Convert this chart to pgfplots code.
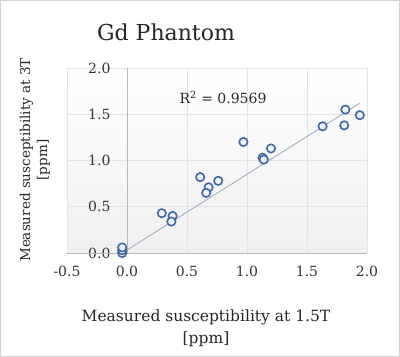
\documentclass[border=0pt]{standalone}
\usepackage{pgfplots}
\pgfplotsset{compat=1.18}
\usepackage{fontspec}
\setmainfont{DejaVu Serif}
\definecolor{mkedge}{HTML}{41689F}
\definecolor{mkfill}{HTML}{EEF2F9}
\definecolor{trend}{HTML}{9AA8BC}
\begin{document}
\begin{tikzpicture}
\draw[gray!35, line width=1.2pt, fill=white] (-66.4pt,-103.4pt) rectangle (332.4pt,252.4pt);
\begin{axis}[
 at={(0,0)}, anchor=south west, scale only axis, width=300pt, height=185pt,
 xmin=-0.5, xmax=2, ymin=0, ymax=2,
 xtick={-0.5,0,0.5,1,1.5,2}, ytick={0,0.5,1,1.5,2},
 grid=major, major grid style={gray!22, line width=0.6pt},
 axis line style={draw=none}, tick style={draw=none},
 axis background/.style={shade, top color=white, bottom color=black!6},
 xticklabel style={yshift=-10pt, font=\fontsize{14}{16}\selectfont, text=black!80},
 yticklabel style={xshift=47pt, font=\fontsize{14}{16}\selectfont, text=black!80},
 clip=false,
 /pgf/number format/fixed, /pgf/number format/fixed zerofill,
 /pgf/number format/precision=1, /pgf/number format/assume math mode=true,
]
\draw[gray!55, line width=0.7pt] (axis cs:0,0) -- (axis cs:0,2);
\draw[gray!55, line width=0.7pt] (axis cs:-0.5,0) -- (axis cs:2,0);
\addplot[trend, line width=0.8pt] coordinates {(-0.04,0.0) (1.94,1.62)};
\addplot[only marks, mark=*, mark size=4.2pt, mark options={draw=mkedge, fill=mkfill, line width=1.6pt}] coordinates {
(-0.04,0.00) (-0.04,0.03) (-0.04,0.06)
(0.29,0.43) (0.38,0.40) (0.37,0.34)
(0.61,0.82) (0.68,0.71) (0.66,0.65) (0.76,0.78)
(0.97,1.20) (1.13,1.03) (1.14,1.01) (1.20,1.13)
(1.63,1.37) (1.81,1.38) (1.82,1.55) (1.94,1.49)
};
\node[font=\fontsize{14}{16}\selectfont, text=black!85] at (axis cs:0.8,1.68) {R\textsuperscript{2} = 0.9569};
\end{axis}
\node[font=\fontsize{22}{26}\selectfont, text=black!85] at (99pt,221pt) {Gd Phantom};
\node[rotate=90, align=center, font=\fontsize{13.5}{17}\selectfont, text=black!85] at (-32pt,93pt) {Measured susceptibility at 3T\\{[ppm]}};
\node[align=center, font=\fontsize{15.5}{22}\selectfont, text=black!85] at (139pt,-75.5pt) {Measured susceptibility at 1.5T\\{[ppm]}};
\end{tikzpicture}
\end{document}
